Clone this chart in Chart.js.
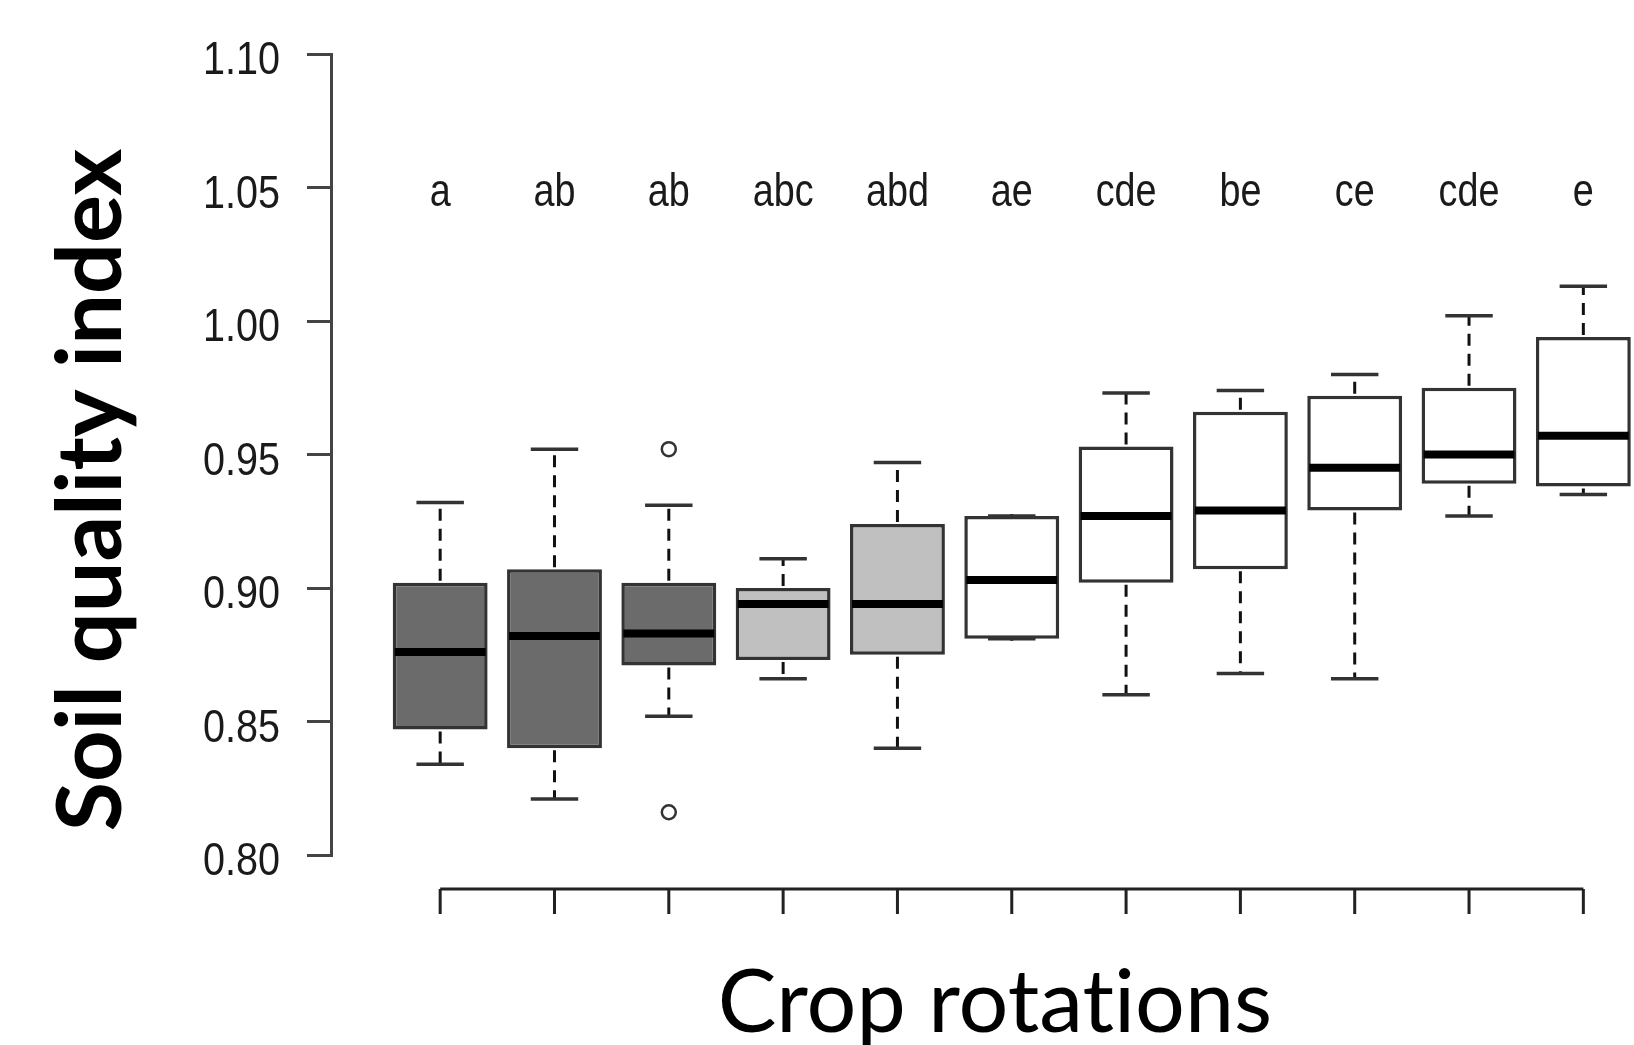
<!DOCTYPE html>
<html>
<head>
<meta charset="utf-8">
<script src="https://cdn.jsdelivr.net/npm/chart.js@4"></script>
<style>
  body { margin: 0; background: #fff; }
  canvas { display: block; }
</style>
</head>
<body>
<canvas id="chart" width="1634" height="1045"></canvas>
<script>
// groups (left to right) and the significance letters above each box
const letters = ['a', 'ab', 'ab', 'abc', 'abd', 'ae', 'cde', 'be', 'ce', 'cde', 'e'];

// box plot stats
const whiskerLow  = [0.834, 0.821, 0.852, 0.866, 0.840, 0.881, 0.860, 0.868, 0.866, 0.927, 0.935];
const q1          = [0.847, 0.840, 0.871, 0.873, 0.875, 0.881, 0.902, 0.907, 0.929, 0.939, 0.938];
const medians     = [0.876, 0.882, 0.883, 0.894, 0.894, 0.903, 0.927, 0.929, 0.945, 0.950, 0.957];
const q3          = [0.902, 0.907, 0.902, 0.900, 0.924, 0.927, 0.953, 0.966, 0.972, 0.975, 0.994];
const whiskerHigh = [0.932, 0.952, 0.931, 0.911, 0.947, 0.927, 0.973, 0.974, 0.980, 1.002, 1.013];

// outliers: group number (1-based) and value
const outlierGroup = [3, 3];
const outlierValue = [0.952, 0.816];

const yTicks = [0.80, 0.85, 0.90, 0.95, 1.00, 1.05, 1.10];
const letterLevel = 1.043;

const boxFill = ['#6b6b6b', '#6b6b6b', '#6b6b6b', '#c0c0c0', '#c0c0c0',
                 '#ffffff', '#ffffff', '#ffffff', '#ffffff', '#ffffff', '#ffffff'];

const boxData = letters.map((l, i) => ({ x: i + 1, y: [q1[i], q3[i]] }));
const outlierData = outlierGroup.map((g, i) => ({ x: g, y: outlierValue[i] }));

// R draws its text a bit squeezed, so do the same
function narrowText(ctx, text, x, y, sx) {
  ctx.save();
  ctx.translate(x, y);
  ctx.scale(sx, 1);
  ctx.fillText(text, 0, 0);
  ctx.restore();
}

// whiskers, medians, the R-style x axis and all the loose text
const boxExtras = {
  id: 'boxExtras',
  afterDatasetsDraw(chart) {
    const ctx = chart.ctx;
    const xs = chart.scales.x, ys = chart.scales.y;
    const bars = chart.getDatasetMeta(0).data;
    ctx.save();
    letters.forEach((l, i) => {
      const x = xs.getPixelForValue(i + 1);
      const w = bars[i].width;
      const cap = w / 4;
      // dashed whiskers
      ctx.strokeStyle = '#111';
      ctx.lineWidth = 3;
      ctx.setLineDash([12, 8]);
      ctx.beginPath();
      ctx.moveTo(x, ys.getPixelForValue(q3[i]) - 2);
      ctx.lineTo(x, ys.getPixelForValue(whiskerHigh[i]));
      ctx.moveTo(x, ys.getPixelForValue(q1[i]) + 2);
      ctx.lineTo(x, ys.getPixelForValue(whiskerLow[i]));
      ctx.stroke();
      ctx.setLineDash([]);
      // caps
      ctx.strokeStyle = '#333';
      ctx.lineWidth = 3.5;
      ctx.beginPath();
      ctx.moveTo(x - cap, ys.getPixelForValue(whiskerHigh[i]));
      ctx.lineTo(x + cap, ys.getPixelForValue(whiskerHigh[i]));
      ctx.moveTo(x - cap, ys.getPixelForValue(whiskerLow[i]));
      ctx.lineTo(x + cap, ys.getPixelForValue(whiskerLow[i]));
      ctx.stroke();
      // median
      ctx.strokeStyle = '#000';
      ctx.lineWidth = 8;
      ctx.beginPath();
      ctx.moveTo(x - w / 2 + 2, ys.getPixelForValue(medians[i]));
      ctx.lineTo(x + w / 2 - 2, ys.getPixelForValue(medians[i]));
      ctx.stroke();
      // letters
      ctx.fillStyle = '#1a1a1a';
      ctx.font = '46px "Liberation Sans", Arial, sans-serif';
      ctx.textAlign = 'center';
      ctx.textBaseline = 'alphabetic';
      narrowText(ctx, l, x, ys.getPixelForValue(letterLevel), 0.82);
    });

    // y tick labels
    ctx.fillStyle = '#1a1a1a';
    ctx.font = '46px "Liberation Sans", Arial, sans-serif';
    ctx.textAlign = 'right';
    ctx.textBaseline = 'alphabetic';
    yTicks.forEach(v => {
      narrowText(ctx, v.toFixed(2), chart.chartArea.left - 51, ys.getPixelForValue(v) + 20, 0.86);
    });

    // x axis below the plot, first to last group
    const axisY = chart.chartArea.bottom + 34;
    ctx.strokeStyle = '#222';
    ctx.lineWidth = 3;
    ctx.beginPath();
    ctx.moveTo(xs.getPixelForValue(1), axisY);
    ctx.lineTo(xs.getPixelForValue(letters.length), axisY);
    letters.forEach((l, i) => {
      const x = xs.getPixelForValue(i + 1);
      ctx.moveTo(x, axisY);
      ctx.lineTo(x, axisY + 25);
    });
    ctx.stroke();

    // axis titles
    ctx.fillStyle = '#000';
    ctx.textAlign = 'center';
    ctx.textBaseline = 'alphabetic';
    ctx.font = '88px Lato, "Open Sans", sans-serif';
    ctx.fillText('Crop rotat\u200Cions', 995, 1032);

    ctx.translate(92, 490);
    ctx.rotate(-Math.PI / 2);
    ctx.textBaseline = 'middle';
    ctx.font = 'bold 90px Lato, "Open Sans", sans-serif';
    ctx.fillText('Soil quality index', 0, 0);
    ctx.restore();
  }
};

new Chart(document.getElementById('chart'), {
  type: 'bar',
  data: {
    datasets: [{
      data: boxData,
      backgroundColor: boxFill,
      borderColor: '#333',
      borderWidth: 3.5,
      borderSkipped: false,
      barPercentage: 0.83,
      categoryPercentage: 1,
      clip: false
    }, {
      type: 'scatter',
      data: outlierData,
      pointStyle: 'circle',
      pointRadius: 7,
      pointBorderWidth: 2.5,
      pointBorderColor: '#333',
      pointBackgroundColor: '#fff'
    }]
  },
  options: {
    responsive: false,
    animation: false,
    layout: { padding: { top: 54, bottom: 190, left: 0, right: 0 } },
    plugins: { legend: { display: false }, tooltip: { enabled: false } },
    scales: {
      x: {
        type: 'linear',
        display: false,
        offset: false,
        min: 0.045,
        max: 11.36
      },
      y: {
        min: 0.8,
        max: 1.1,
        afterFit: (scale) => { scale.width = 331; },
        afterBuildTicks: (scale) => { scale.ticks = yTicks.map(v => ({ value: v })); },
        ticks: { display: false },
        grid: { drawOnChartArea: false, drawTicks: true, tickLength: 24, color: '#444', lineWidth: 3 },
        border: { display: true, color: '#444', width: 3 }
      }
    }
  },
  plugins: [boxExtras]
});
</script>
</body>
</html>
